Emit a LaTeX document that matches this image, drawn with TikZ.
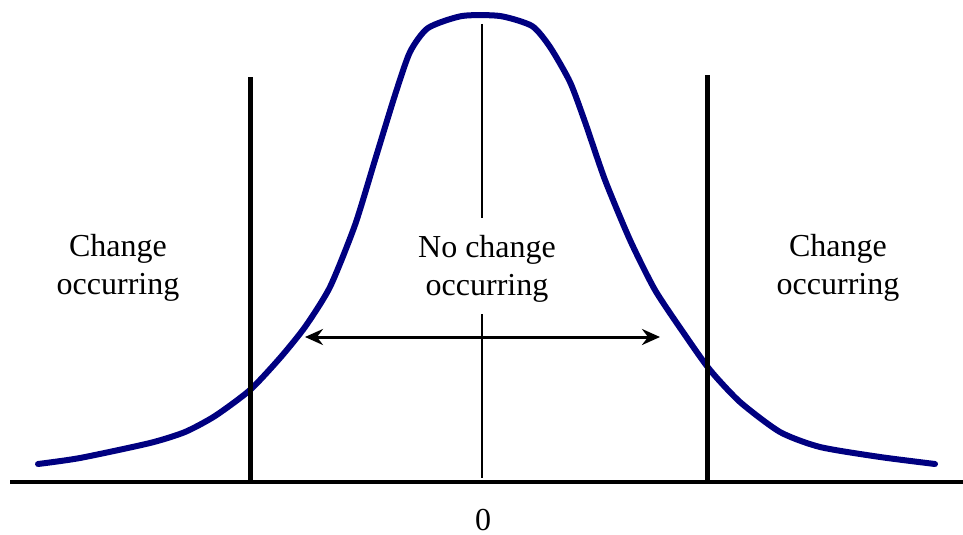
\documentclass[tikz,border=0pt]{standalone}
\usepackage{fontspec}
\setmainfont{Liberation Serif}
\usetikzlibrary{arrows.meta}
\definecolor{curveblue}{RGB}{0,0,128}
\tikzset{
  lbl/.style={align=center,font=\fontsize{32}{38}\selectfont,inner sep=0pt},
  numlbl/.style={font=\fontsize{32}{38}\selectfont,inner sep=0pt,anchor=base},
  thickbar/.style={line width=5pt},
  curve/.style={line width=6pt,curveblue,line cap=round,line join=round},
  dblarrow/.style={line width=3pt,{Stealth[length=18pt,width=16pt,inset=6pt]}-{Stealth[length=18pt,width=16pt,inset=6pt]}},
}
\begin{document}
\begin{tikzpicture}[x=1pt,y=-1pt]
\useasboundingbox (0,0) rectangle (963,535);
% curve
\draw[curve] plot[smooth,tension=0.4] coordinates {
(38,464) (80,458) (150,443) (185,432) (215,416) (250,390) (280,358) (305,327)
(330,287) (355,225) (375,160) (395,95) (410,52) (428,28) (462,16) (500,16)
(532,26) (550,47) (570,82) (585,122) (605,180) (630,240) (655,290) (685,335)
(710,370) (740,402) (780,432) (820,447) (880,457) (935,464)};
% axis
\coordinate (axL) at (10,482);
\coordinate (axR) at (963,482);
\draw[line width=4pt] (axL) -- (axR);
% bars
\coordinate (lbT) at (250,77);
\coordinate (lbB) at (250,482);
\coordinate (rbT) at (707,75);
\coordinate (rbB) at (707,482);
\draw[thickbar] (lbT) -- (lbB);
\draw[thickbar] (rbT) -- (rbB);
% texts
\node[lbl] (left) at (118,268) {Change\\occurring};
\node[lbl] (right) at (838,268) {Change\\occurring};
\node[lbl] (mid) at (487,269) {No change\\occurring};
\node[numlbl] (zero) at (483,530) {0};
% center line
\coordinate (cT) at (482,24);
\coordinate (cM1) at (482,218);
\coordinate (cM2) at (482,314);
\coordinate (cB) at (482,478);
\draw[line width=2pt] (cT) -- (cM1);
\draw[line width=2pt] (cM2) -- (cB);
% arrow
\coordinate (aL) at (305,337);
\coordinate (aR) at (660,337);
\draw[dblarrow] (aL) -- (aR);
\end{tikzpicture}
\end{document}
